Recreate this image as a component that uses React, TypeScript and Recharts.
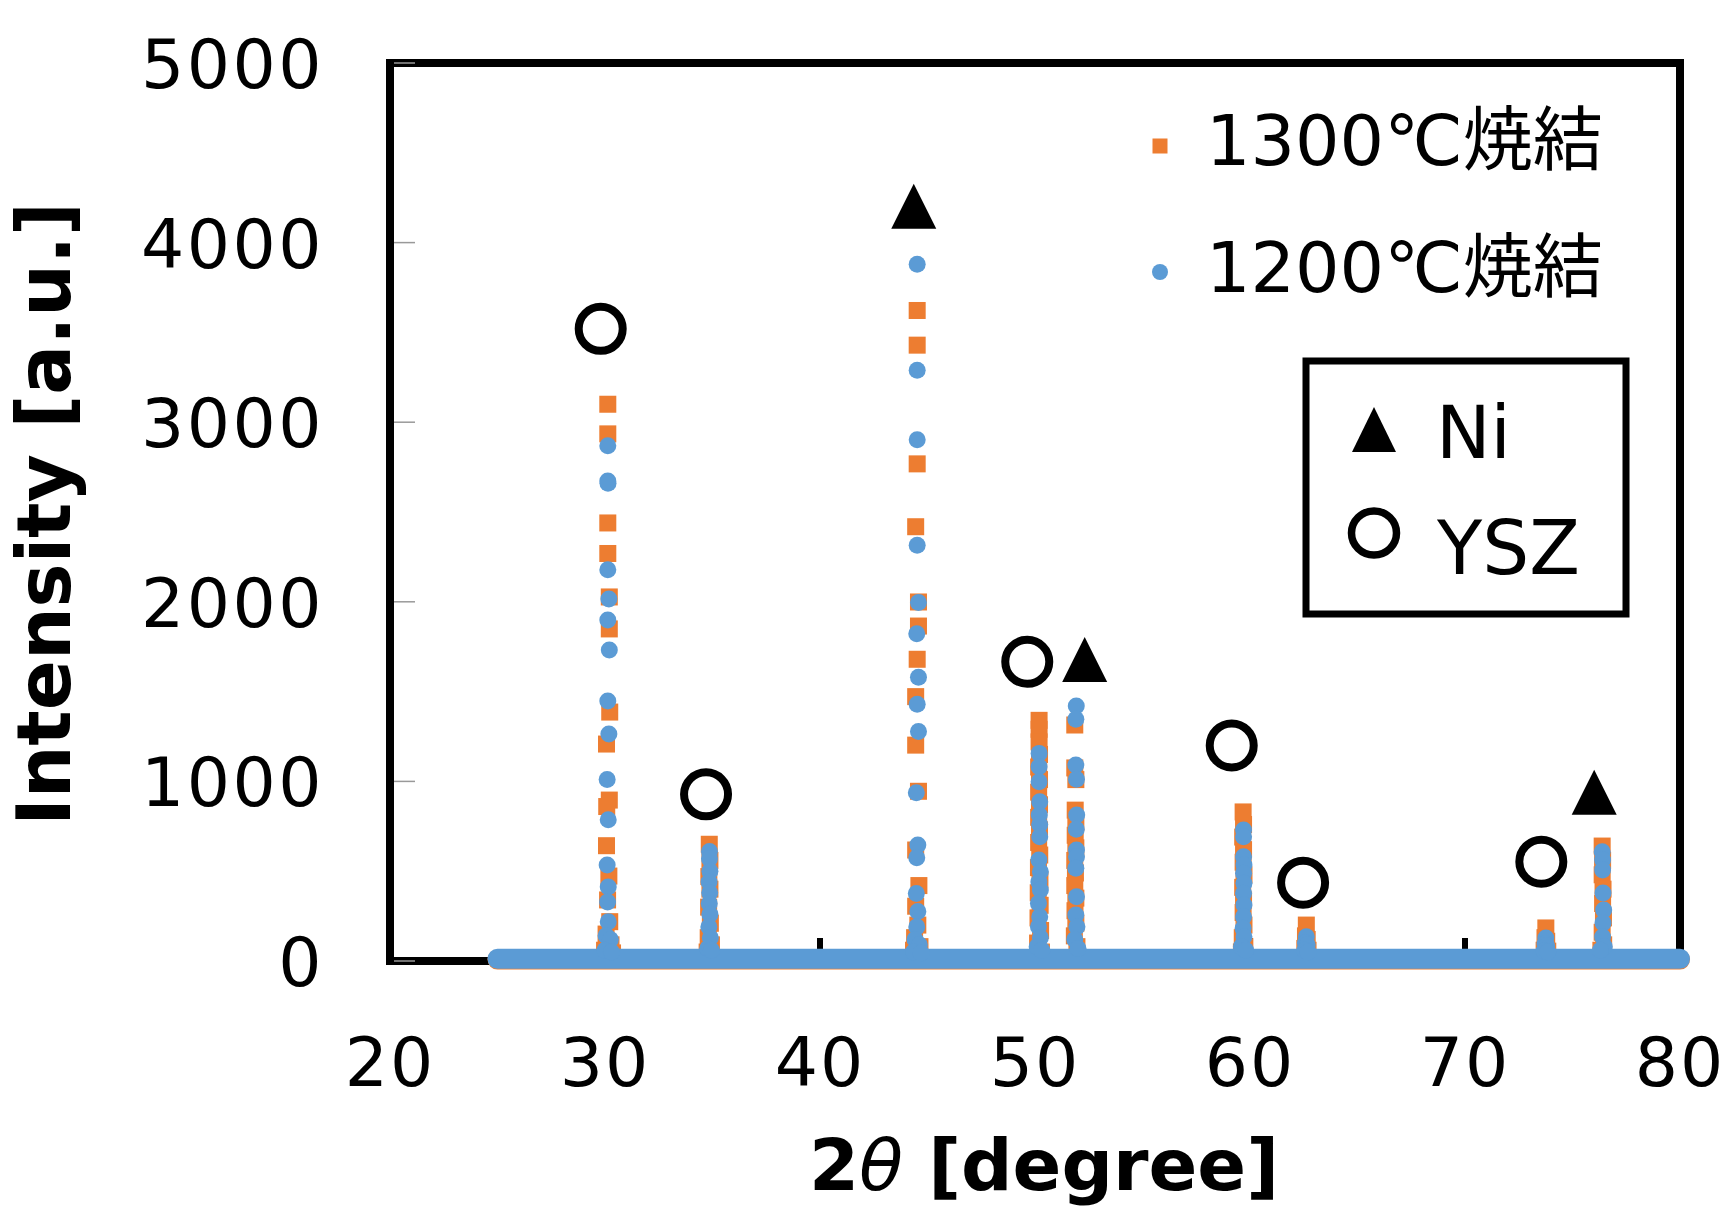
import React from 'react';
import { ComposedChart, XAxis, YAxis, Scatter, Legend } from 'recharts';

const ORANGE = '#ED7D31';
const BLUE = '#5B9BD5';
const FONT = "'DejaVu Sans', 'Noto Sans CJK JP', sans-serif";

const xTicks = [20, 30, 40, 50, 60, 70, 80];
const yTicks = [0, 1000, 2000, 3000, 4000, 5000];
const seriesNames = ['1300℃焼結', '1200℃焼結'];
const phaseNames = ['Ni', 'YSZ'];

// flat background band of each pattern (2θ, intensity)
const baseline1300 = [
  { x: 25, y: 8 },
  { x: 80, y: 8 },
];
const baseline1200 = [
  { x: 25, y: 12 },
  { x: 80, y: 12 },
];

// peak points, 1300℃ sintered (orange squares)
const peaks1300 = [
  // YSZ(111) ~30.1
  { x: 30.13, y: 3100 }, { x: 30.13, y: 2935 }, { x: 30.13, y: 2439 }, { x: 30.13, y: 2269 },
  { x: 30.2, y: 2027 }, { x: 30.2, y: 1849 }, { x: 30.22, y: 1386 }, { x: 30.07, y: 1208 },
  { x: 30.2, y: 896 }, { x: 30.08, y: 860 }, { x: 30.07, y: 642 }, { x: 30.18, y: 473 },
  { x: 30.12, y: 340 }, { x: 30.22, y: 219 }, { x: 30.05, y: 150 }, { x: 30.28, y: 90 },
  { x: 29.98, y: 60 }, { x: 30.35, y: 45 },
  // YSZ(200) ~34.9
  { x: 34.85, y: 650 }, { x: 34.88, y: 560 }, { x: 34.83, y: 470 }, { x: 34.88, y: 400 },
  { x: 34.82, y: 300 }, { x: 34.9, y: 210 }, { x: 34.8, y: 130 }, { x: 34.95, y: 90 },
  { x: 34.75, y: 50 },
  // Ni(111) ~44.5
  { x: 44.52, y: 3622 }, { x: 44.52, y: 3429 }, { x: 44.52, y: 2768 }, { x: 44.45, y: 2418 },
  { x: 44.58, y: 1999 }, { x: 44.58, y: 1865 }, { x: 44.52, y: 1680 }, { x: 44.45, y: 1472 },
  { x: 44.45, y: 1202 }, { x: 44.58, y: 945 }, { x: 44.45, y: 618 }, { x: 44.6, y: 420 },
  { x: 44.45, y: 305 }, { x: 44.55, y: 200 }, { x: 44.4, y: 130 }, { x: 44.65, y: 80 },
  { x: 44.35, y: 60 },
  // YSZ(220) ~50.2
  { x: 50.19, y: 1340 }, { x: 50.19, y: 1290 }, { x: 50.19, y: 1220 }, { x: 50.21, y: 1150 },
  { x: 50.17, y: 1080 }, { x: 50.21, y: 1010 }, { x: 50.17, y: 940 }, { x: 50.21, y: 870 },
  { x: 50.17, y: 800 }, { x: 50.21, y: 730 }, { x: 50.17, y: 660 }, { x: 50.22, y: 590 },
  { x: 50.16, y: 520 }, { x: 50.23, y: 450 }, { x: 50.15, y: 380 }, { x: 50.24, y: 310 },
  { x: 50.14, y: 240 }, { x: 50.26, y: 170 }, { x: 50.12, y: 100 }, { x: 50.3, y: 50 },
  // Ni(200) ~51.9
  { x: 51.85, y: 1314 }, { x: 51.85, y: 1075 }, { x: 51.9, y: 1010 }, { x: 51.87, y: 840 },
  { x: 51.9, y: 770 }, { x: 51.87, y: 700 }, { x: 51.9, y: 630 }, { x: 51.85, y: 560 },
  { x: 51.88, y: 490 }, { x: 51.85, y: 420 }, { x: 51.9, y: 350 }, { x: 51.86, y: 280 },
  { x: 51.9, y: 210 }, { x: 51.83, y: 140 }, { x: 51.95, y: 80 },
  // YSZ(311) ~59.7
  { x: 59.68, y: 830 }, { x: 59.7, y: 760 }, { x: 59.66, y: 690 }, { x: 59.7, y: 620 },
  { x: 59.68, y: 550 }, { x: 59.72, y: 480 }, { x: 59.66, y: 410 }, { x: 59.7, y: 340 },
  { x: 59.68, y: 270 }, { x: 59.72, y: 200 }, { x: 59.64, y: 130 }, { x: 59.76, y: 80 },
  { x: 59.6, y: 50 },
  // YSZ(222) ~62.6
  { x: 62.62, y: 200 }, { x: 62.58, y: 140 }, { x: 62.66, y: 120 }, { x: 62.55, y: 70 },
  { x: 62.7, y: 60 },
  // YSZ(400) ~73.8
  { x: 73.76, y: 184 }, { x: 73.72, y: 130 }, { x: 73.8, y: 110 }, { x: 73.68, y: 60 },
  { x: 73.85, y: 55 },
  // Ni(220) ~76.4
  { x: 76.38, y: 640 }, { x: 76.4, y: 560 }, { x: 76.38, y: 480 }, { x: 76.42, y: 400 },
  { x: 76.4, y: 320 }, { x: 76.44, y: 240 }, { x: 76.38, y: 160 }, { x: 76.45, y: 90 },
  { x: 76.32, y: 60 },
];

// peak points, 1200℃ sintered (blue circles)
const peaks1200 = [
  // ~30.1
  { x: 30.13, y: 2869 }, { x: 30.13, y: 2672 }, { x: 30.14, y: 2660 }, { x: 30.13, y: 2179 },
  { x: 30.18, y: 2016 }, { x: 30.13, y: 1899 }, { x: 30.2, y: 1732 }, { x: 30.13, y: 1448 },
  { x: 30.18, y: 1264 }, { x: 30.1, y: 1010 }, { x: 30.15, y: 787 }, { x: 30.1, y: 534 },
  { x: 30.15, y: 412 }, { x: 30.12, y: 329 }, { x: 30.15, y: 219 }, { x: 30.05, y: 140 },
  { x: 30.25, y: 120 }, { x: 30.0, y: 60 }, { x: 30.3, y: 50 },
  // ~34.9
  { x: 34.86, y: 610 }, { x: 34.86, y: 570 }, { x: 34.88, y: 500 }, { x: 34.84, y: 440 },
  { x: 34.87, y: 380 }, { x: 34.85, y: 320 }, { x: 34.88, y: 260 }, { x: 34.83, y: 190 },
  { x: 34.9, y: 130 }, { x: 34.78, y: 70 }, { x: 34.95, y: 60 },
  // ~44.5
  { x: 44.52, y: 3879 }, { x: 44.52, y: 3289 }, { x: 44.52, y: 2902 }, { x: 44.52, y: 2315 },
  { x: 44.58, y: 1996 }, { x: 44.5, y: 1822 }, { x: 44.58, y: 1580 }, { x: 44.52, y: 1429 },
  { x: 44.58, y: 1278 }, { x: 44.48, y: 937 }, { x: 44.55, y: 646 }, { x: 44.5, y: 575 },
  { x: 44.48, y: 376 }, { x: 44.55, y: 276 }, { x: 44.5, y: 190 }, { x: 44.42, y: 120 },
  { x: 44.62, y: 90 }, { x: 44.35, y: 50 }, { x: 44.7, y: 45 },
  // ~50.2
  { x: 50.19, y: 1156 }, { x: 50.19, y: 1082 }, { x: 50.19, y: 998 }, { x: 50.22, y: 887 },
  { x: 50.2, y: 813 }, { x: 50.22, y: 760 }, { x: 50.22, y: 692 }, { x: 50.18, y: 562 },
  { x: 50.25, y: 497 }, { x: 50.18, y: 440 }, { x: 50.25, y: 395 }, { x: 50.16, y: 321 },
  { x: 50.22, y: 247 }, { x: 50.16, y: 191 }, { x: 50.25, y: 130 }, { x: 50.1, y: 80 },
  { x: 50.32, y: 60 },
  // ~51.9
  { x: 51.92, y: 1420 }, { x: 51.9, y: 1346 }, { x: 51.9, y: 1091 }, { x: 51.93, y: 1012 },
  { x: 51.94, y: 813 }, { x: 51.92, y: 733 }, { x: 51.93, y: 618 }, { x: 51.93, y: 581 },
  { x: 51.9, y: 516 }, { x: 51.93, y: 358 }, { x: 51.9, y: 256 }, { x: 51.95, y: 191 },
  { x: 51.85, y: 120 }, { x: 52.0, y: 70 },
  // ~59.7
  { x: 59.7, y: 729 }, { x: 59.7, y: 692 }, { x: 59.7, y: 581 }, { x: 59.72, y: 534 },
  { x: 59.7, y: 488 }, { x: 59.72, y: 433 }, { x: 59.7, y: 377 }, { x: 59.72, y: 312 },
  { x: 59.7, y: 247 }, { x: 59.68, y: 182 }, { x: 59.72, y: 135 }, { x: 59.6, y: 80 },
  { x: 59.8, y: 60 },
  // ~62.6
  { x: 62.62, y: 135 }, { x: 62.58, y: 100 }, { x: 62.66, y: 90 }, { x: 62.55, y: 60 },
  { x: 62.7, y: 50 },
  // ~73.8
  { x: 73.76, y: 128 }, { x: 73.72, y: 95 }, { x: 73.8, y: 85 }, { x: 73.68, y: 55 },
  { x: 73.85, y: 50 },
  // ~76.4
  { x: 76.38, y: 608 }, { x: 76.4, y: 562 }, { x: 76.4, y: 507 }, { x: 76.42, y: 379 },
  { x: 76.45, y: 284 }, { x: 76.42, y: 212 }, { x: 76.4, y: 134 }, { x: 76.48, y: 80 },
  { x: 76.3, y: 60 },
];

// phase markers placed above peaks
const yszMarks = [
  { x: 29.8, y: 3520 },
  { x: 34.7, y: 928 },
  { x: 49.64, y: 1666 },
  { x: 59.15, y: 1200 },
  { x: 62.47, y: 436 },
  { x: 73.55, y: 553 },
];
const niMarks = [
  { x: 44.36, y: 4202 },
  { x: 52.31, y: 1679 },
  { x: 76.01, y: 940 },
];

// plot frame (closed rectangle through the axis extremes) and inner x tick marks
const xMin = xTicks[0];
const xMax = xTicks[xTicks.length - 1];
const yMin = yTicks[0];
const yMax = yTicks[yTicks.length - 1];
const frameCorners = [
  { x: xMin, y: yMin },
  { x: xMin, y: yMax },
  { x: xMax, y: yMax },
  { x: xMax, y: yMin },
  { x: xMin, y: yMin },
];
const xTickMarks = xTicks.map((v) => ({ x: v, y: yMin }));

const Square = (p: any) =>
  p.cx == null ? <g /> : <rect x={p.cx - 8.5} y={p.cy - 8.5} width={17} height={17} fill={ORANGE} />;
const Dot = (p: any) => (p.cx == null ? <g /> : <circle cx={p.cx} cy={p.cy} r={8.5} fill={BLUE} />);
const Empty = () => <g />;
const TickMark = (p: any) =>
  p.cx == null ? <g /> : <line x1={p.cx} x2={p.cx} y1={p.cy} y2={p.cy - 23} stroke="#000" strokeWidth={6} />;
const OpenCircle = (p: any) =>
  p.cx == null ? <g /> : <circle cx={p.cx} cy={p.cy} r={22} fill="none" stroke="#000" strokeWidth={8} />;
const Triangle = (p: any) =>
  p.cx == null ? (
    <g />
  ) : (
    <polygon
      points={`${p.cx},${p.cy - 22.5} ${p.cx + 22.5},${p.cy + 22.5} ${p.cx - 22.5},${p.cy + 22.5}`}
      fill="#000"
    />
  );

const XTick = (p: any) => (
  <text
    x={p.x}
    y={p.y + 125}
    textAnchor="middle"
    fontFamily={FONT}
    fontSize={68}
    letterSpacing={2}
    fill="#000"
  >
    {p.payload.value}
  </text>
);
const YTick = (p: any) => (
  <g>
    <line x1={p.x + 4} x2={p.x + 25} y1={p.y} y2={p.y} stroke="#999" strokeWidth={1.5} />
    <text
      x={p.x - 66}
      y={p.y + 25}
      textAnchor="end"
      fontFamily={FONT}
      fontSize={68}
      letterSpacing={2.5}
      fill="#000"
    >
      {p.payload.value}
    </text>
  </g>
);

const XTitle = () => (
  <text x={1044} y={1190} textAnchor="middle" fontFamily={FONT} fontSize={72} fontWeight="bold" fill="#000">
    2<tspan fontStyle="italic" fontWeight="normal">θ</tspan> [degree]
  </text>
);
const YTitle = () => (
  <text
    x={70}
    y={514}
    transform="rotate(-90 70 514)"
    textAnchor="middle"
    fontFamily={FONT}
    fontSize={74}
    fontWeight="bold"
    fill="#000"
  >
    Intensity [a.u.]
  </text>
);

const LegendContent = () => (
  <svg width={560} height={560} style={{ display: 'block', overflow: 'visible' }}>
    <rect x={22.5} y={58.5} width={15} height={15} fill={ORANGE} />
    <text x={76} y={85} fontFamily={FONT} fontSize={70} fill="#000">
      {seriesNames[0]}
    </text>
    <circle cx={30} cy={192} r={8} fill={BLUE} />
    <text x={76} y={212} fontFamily={FONT} fontSize={70} fill="#000">
      {seriesNames[1]}
    </text>
    <rect x={176} y={281} width={320} height={253} fill="none" stroke="#000" strokeWidth={7} />
    <polygon points="244,327 266,372 222,372" fill="#000" />
    <text x={306} y={378} fontFamily={FONT} fontSize={73} fill="#000">
      {phaseNames[0]}
    </text>
    <ellipse cx={244} cy={453} rx={22.5} ry={22} fill="none" stroke="#000" strokeWidth={7.5} />
    <text x={307} y={494} fontFamily={FONT} fontSize={74} fill="#000">
      {phaseNames[1]}
    </text>
  </svg>
);

export default function App() {
  return (
    <div style={{ position: 'absolute', left: 0, top: 0, width: 1730, height: 1215, background: '#fff' }}>
      <ComposedChart width={1730} height={1215} margin={{ top: 63, right: 50, bottom: 104, left: 90 }}>
        <XAxis
          xAxisId="main"
          type="number"
          dataKey="x"
          domain={[xMin, xMax]}
          ticks={xTicks}
          interval={0}
          height={150}
          tickSize={0}
          tickMargin={0}
          tickLine={false}
          tick={<XTick />}
          axisLine={false}
          label={<XTitle />}
        />
        <YAxis
          yAxisId="main"
          type="number"
          dataKey="y"
          domain={[yMin, yMax]}
          ticks={yTicks}
          interval={0}
          width={300}
          tickSize={0}
          tickMargin={0}
          tickLine={false}
          tick={<YTick />}
          axisLine={false}
          label={<YTitle />}
        />
        <Legend
          layout="vertical"
          align="center"
          verticalAlign="middle"
          content={<LegendContent />}
          wrapperStyle={{ left: 1130, top: 80, width: 560, height: 560 }}
        />
        <Scatter
          xAxisId="main"
          yAxisId="main"
          name="frame"
          data={frameCorners}
          dataKey="y"
          fill="#000"
          shape={<Empty />}
          line={{ stroke: '#000', strokeWidth: 8, strokeLinecap: 'square', strokeLinejoin: 'miter' }}
          legendType="none"
          isAnimationActive={false}
        />
        <Scatter
          xAxisId="main"
          yAxisId="main"
          name="x ticks"
          data={xTickMarks}
          dataKey="y"
          fill="#000"
          shape={<TickMark />}
          legendType="none"
          isAnimationActive={false}
        />
        <Scatter
          xAxisId="main"
          yAxisId="main"
          name={seriesNames[0] + ' base'}
          data={baseline1300}
          dataKey="y"
          fill={ORANGE}
          shape={<Empty />}
          line={{ stroke: ORANGE, strokeWidth: 20, strokeLinecap: 'round' }}
          legendType="none"
          isAnimationActive={false}
        />
        <Scatter
          xAxisId="main"
          yAxisId="main"
          name={seriesNames[0]}
          data={peaks1300}
          dataKey="y"
          fill={ORANGE}
          shape={<Square />}
          isAnimationActive={false}
        />
        <Scatter
          xAxisId="main"
          yAxisId="main"
          name={seriesNames[1] + ' base'}
          data={baseline1200}
          dataKey="y"
          fill={BLUE}
          shape={<Empty />}
          line={{ stroke: BLUE, strokeWidth: 20, strokeLinecap: 'round' }}
          legendType="none"
          isAnimationActive={false}
        />
        <Scatter
          xAxisId="main"
          yAxisId="main"
          name={seriesNames[1]}
          data={peaks1200}
          dataKey="y"
          fill={BLUE}
          shape={<Dot />}
          isAnimationActive={false}
        />
        <Scatter
          xAxisId="main"
          yAxisId="main"
          name="YSZ marks"
          data={yszMarks}
          dataKey="y"
          fill="#000"
          shape={<OpenCircle />}
          legendType="none"
          isAnimationActive={false}
        />
        <Scatter
          xAxisId="main"
          yAxisId="main"
          name="Ni marks"
          data={niMarks}
          dataKey="y"
          fill="#000"
          shape={<Triangle />}
          legendType="none"
          isAnimationActive={false}
        />
      </ComposedChart>
    </div>
  );
}
